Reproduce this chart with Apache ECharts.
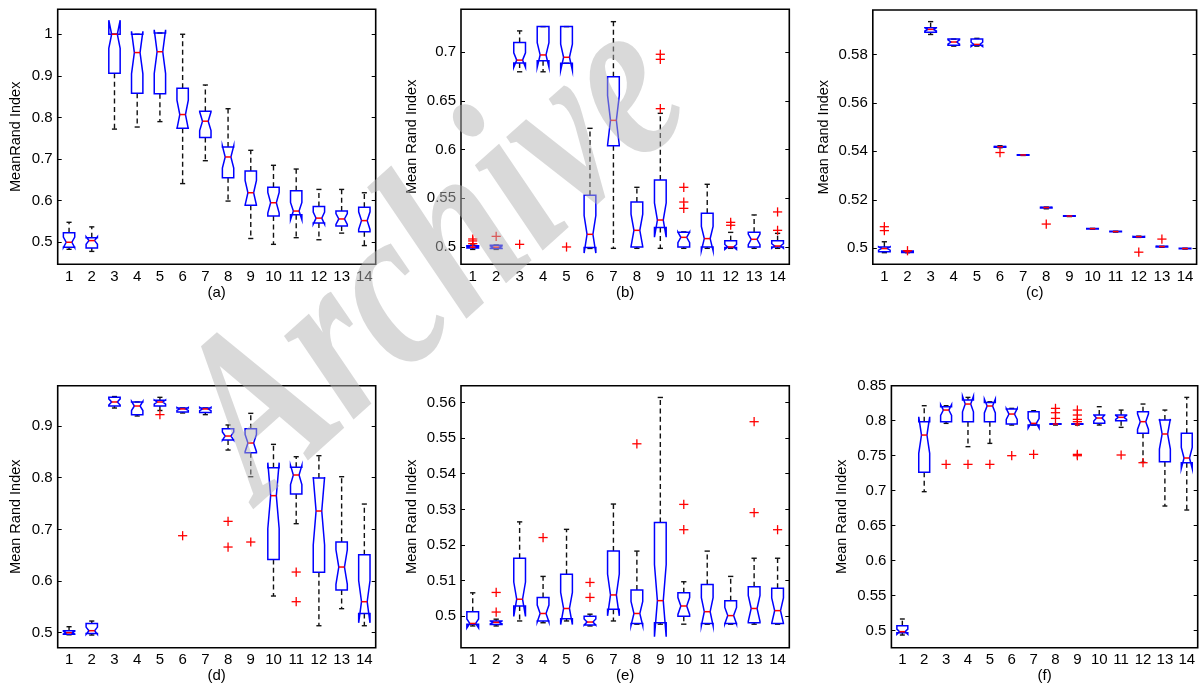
<!DOCTYPE html>
<html>
<head>
<meta charset="utf-8">
<script src="https://cdn.jsdelivr.net/npm/echarts@6/dist/echarts.min.js"></script>
<style>
html, body { margin: 0; background: #fff; }
#main { width: 1201px; height: 683px; }
</style>
</head>
<body>
<div id="main"></div>
<script>
var categories = ['1', '2', '3', '4', '5', '6', '7', '8', '9', '10', '11', '12', '13', '14'];

// each box: [lower whisker, q1, median, q3, upper whisker]
var boxesA = [
	[0.483, 0.488, 0.500, 0.523, 0.548], [0.478, 0.486, 0.504, 0.511, 0.537],
	[0.772, 0.906, 1.000, 1.000, 1.000], [0.777, 0.858, 0.956, 1.000, 1.000],
	[0.790, 0.857, 0.958, 1.003, 1.003], [0.641, 0.774, 0.807, 0.870, 1.000],
	[0.696, 0.752, 0.791, 0.815, 0.878], [0.599, 0.655, 0.705, 0.729, 0.821],
	[0.509, 0.589, 0.619, 0.671, 0.721], [0.495, 0.563, 0.595, 0.632, 0.685],
	[0.511, 0.566, 0.575, 0.624, 0.676], [0.506, 0.546, 0.558, 0.586, 0.627],
	[0.522, 0.539, 0.556, 0.575, 0.627], [0.492, 0.525, 0.552, 0.584, 0.619]
];
var outliersA = [];

var boxesB = [
	[0.4975, 0.4990, 0.4998, 0.5012, 0.5020], [0.4975, 0.4985, 0.4998, 0.5017, 0.5020],
	[0.6800, 0.6890, 0.6920, 0.7100, 0.7220], [0.6800, 0.6914, 0.6973, 0.7264, 0.7264],
	[0.6887, 0.6887, 0.6949, 0.7264, 0.7264], [0.4985, 0.4995, 0.5130, 0.5531, 0.6219],
	[0.4986, 0.6041, 0.6301, 0.6750, 0.7315], [0.4986, 0.5000, 0.5171, 0.5462, 0.5613],
	[0.4986, 0.5199, 0.5277, 0.5688, 0.6373], [0.4986, 0.5000, 0.5099, 0.5151, 0.5155],
	[0.4986, 0.5000, 0.5086, 0.5346, 0.5644], [0.4986, 0.4995, 0.5000, 0.5065, 0.5150],
	[0.4986, 0.5000, 0.5079, 0.5151, 0.5329], [0.4986, 0.5000, 0.5010, 0.5065, 0.5140]
];
var outliersB = [
	[0, 0.5034], [0, 0.5062], [0, 0.5082], [1, 0.5109], [2, 0.5027], [4, 0.5000],
	[8, 0.6980], [8, 0.6928], [8, 0.6421], [9, 0.5613], [9, 0.5462], [9, 0.5397],
	[11, 0.5253], [11, 0.5223], [13, 0.5360], [13, 0.5171]
];

var boxesC = [
	[0.4982, 0.4986, 0.4999, 0.5005, 0.5027], [0.4982, 0.4983, 0.4986, 0.4989, 0.4990],
	[0.5882, 0.5891, 0.5903, 0.5910, 0.5935], [0.5834, 0.5838, 0.5851, 0.5863, 0.5863],
	[0.5834, 0.5838, 0.5841, 0.5863, 0.5866], [0.5415, 0.5417, 0.5419, 0.5420, 0.5423],
	[0.5383, 0.5384, 0.5385, 0.5386, 0.5386], [0.5163, 0.5166, 0.5168, 0.5169, 0.5170],
	[0.5131, 0.5132, 0.5133, 0.5134, 0.5134], [0.5079, 0.5080, 0.5081, 0.5082, 0.5082],
	[0.5067, 0.5068, 0.5069, 0.5070, 0.5070], [0.5045, 0.5046, 0.5048, 0.5049, 0.5050],
	[0.5004, 0.5005, 0.5007, 0.5008, 0.5008], [0.4997, 0.4998, 0.4999, 0.5000, 0.5000]
];
var outliersC = [
	[0, 0.5089], [0, 0.5073], [1, 0.4990], [5, 0.5395], [7, 0.5100], [11, 0.4984], [12, 0.5038]
];

var boxesD = [
	[0.4960, 0.4968, 0.5000, 0.5039, 0.5116], [0.4955, 0.4987, 0.5039, 0.5180, 0.5226],
	[0.9348, 0.9387, 0.9465, 0.9555, 0.9570], [0.9194, 0.9220, 0.9387, 0.9465, 0.9465],
	[0.9300, 0.9387, 0.9465, 0.9500, 0.9555], [0.9252, 0.9270, 0.9330, 0.9348, 0.9348],
	[0.9220, 0.9260, 0.9330, 0.9348, 0.9348], [0.8535, 0.8730, 0.8806, 0.8948, 0.9020],
	[0.8019, 0.8484, 0.8671, 0.8948, 0.9245], [0.5710, 0.6419, 0.7652, 0.8194, 0.8645],
	[0.7110, 0.7684, 0.8052, 0.8200, 0.8406], [0.5135, 0.6168, 0.7355, 0.7994, 0.8426],
	[0.5465, 0.5826, 0.6271, 0.6755, 0.8019], [0.5135, 0.5374, 0.5600, 0.6510, 0.7490]
];
var outliersD = [
	[4, 0.9220], [5, 0.6877], [7, 0.7155], [7, 0.6658], [8, 0.6755], [10, 0.6174], [10, 0.5600]
];

var boxesE = [
	[0.4973, 0.4978, 0.4980, 0.5013, 0.5066], [0.4973, 0.4977, 0.4983, 0.4987, 0.4992],
	[0.4987, 0.5029, 0.5048, 0.5163, 0.5265], [0.4982, 0.4987, 0.5008, 0.5053, 0.5112],
	[0.4987, 0.4993, 0.5022, 0.5118, 0.5244], [0.4973, 0.4976, 0.4984, 0.5000, 0.5006],
	[0.4987, 0.5020, 0.5060, 0.5183, 0.5315], [0.4978, 0.4980, 0.5008, 0.5074, 0.5183],
	[0.4978, 0.4982, 0.5044, 0.5263, 0.5614], [0.4978, 0.5000, 0.5029, 0.5066, 0.5097],
	[0.4978, 0.4980, 0.5013, 0.5089, 0.5183], [0.4978, 0.4980, 0.5002, 0.5044, 0.5112],
	[0.4978, 0.4982, 0.5022, 0.5083, 0.5163], [0.4978, 0.4980, 0.5016, 0.5079, 0.5163]
];
var outliersE = [
	[1, 0.5067], [1, 0.5012], [3, 0.5221], [5, 0.5095], [5, 0.5053], [7, 0.5484],
	[9, 0.5314], [9, 0.5243], [12, 0.5546], [12, 0.5291], [13, 0.5243]
];

var boxesF = [
	[0.4938, 0.4971, 0.4986, 0.5071, 0.5167], [0.6986, 0.7262, 0.7795, 0.7986, 0.8214],
	[0.7962, 0.7986, 0.8152, 0.8200, 0.8214], [0.7629, 0.7986, 0.8238, 0.8295, 0.8333],
	[0.7676, 0.7986, 0.8210, 0.8260, 0.8270], [0.7938, 0.7952, 0.8095, 0.8167, 0.8176],
	[0.7938, 0.7938, 0.7962, 0.8129, 0.8143], [0.7938, 0.7948, 0.7952, 0.7955, 0.7955],
	[0.7938, 0.7948, 0.7952, 0.7955, 0.7955], [0.7938, 0.7962, 0.8038, 0.8081, 0.8200],
	[0.7905, 0.8000, 0.8048, 0.8081, 0.8152], [0.7405, 0.7819, 0.7986, 0.8129, 0.8238],
	[0.6781, 0.7414, 0.7810, 0.8010, 0.8152], [0.6724, 0.7400, 0.7467, 0.7819, 0.8333]
];
var outliersF = [
	[2, 0.7376], [3, 0.7376], [4, 0.7376], [5, 0.7500], [6, 0.7519],
	[7, 0.8176], [7, 0.8114], [7, 0.8033], [8, 0.8152], [8, 0.8081], [8, 0.8019],
	[8, 0.7986], [8, 0.7519], [8, 0.7500], [10, 0.7510], [11, 0.7400]
];

// tick labels of each y axis
var ticksA = [0.5, 0.6, 0.7, 0.8, 0.9, 1];
var ticksB = [0.5, 0.55, 0.6, 0.65, 0.7];
var ticksC = [0.5, 0.52, 0.54, 0.56, 0.58];
var ticksD = [0.5, 0.6, 0.7, 0.8, 0.9];
var ticksE = [0.5, 0.51, 0.52, 0.53, 0.54, 0.55, 0.56];
var ticksF = [0.5, 0.55, 0.6, 0.65, 0.7, 0.75, 0.8, 0.85];

// 面板布局
var panels = [
	{ boxes: boxesA, out: outliersA, ticks: ticksA, min: 0.447, max: 1.06, tag: '(a)', yname: 'MeanRand Index',
		rect: [57.7, 9.3, 318, 255], gap: 34 },
	{ boxes: boxesB, out: outliersB, ticks: ticksB, min: 0.4822, max: 0.7442, tag: '(b)', yname: 'Mean Rand Index',
		rect: [461, 9.3, 328.3, 255], gap: 42 },
	{ boxes: boxesC, out: outliersC, ticks: ticksC, min: 0.4934, max: 0.5983, tag: '(c)', yname: 'Mean Rand Index',
		rect: [872.8, 10, 323.8, 254.3], gap: 41 },
	{ boxes: boxesD, out: outliersD, ticks: ticksD, min: 0.471, max: 0.978, tag: '(d)', yname: 'Mean Rand Index',
		rect: [57.7, 385.7, 318, 262], gap: 34 },
	{ boxes: boxesE, out: outliersE, ticks: ticksE, min: 0.4912, max: 0.5647, tag: '(e)', yname: 'Mean Rand Index',
		rect: [461, 385.7, 328.3, 262], gap: 42 },
	{ boxes: boxesF, out: outliersF, ticks: ticksF, min: 0.4757, max: 0.85, tag: '(f)', yname: 'Mean Rand Index',
		rect: [891.4, 385.7, 306.3, 262], gap: 42 }
];

var FONT = 'Liberation Sans';
var NOTCH = 0.36;

function renderBox(params, api) {
	var i = api.value(0);
	var lo = api.value(1), q1 = api.value(2), md = api.value(3), q3 = api.value(4), hi = api.value(5);
	var band = api.size([1, 0])[0];
	var cx = api.coord([i, md])[0];
	var y = function (v) { return api.coord([i, v])[1]; };
	var hw = band * 0.25, inner = hw * 0.5, cap = hw * 0.45;
	var nlo = md - NOTCH * (q3 - q1), nhi = md + NOTCH * (q3 - q1);
	var L = cx - hw, R = cx + hw;
	var dash = { stroke: '#111', lineWidth: 1.4, lineDash: [5, 3.4] };
	var solid = { stroke: '#111', lineWidth: 1.4 };
	var kids = [];
	if (hi > q3) kids.push({ type: 'line', shape: { x1: cx, y1: y(q3), x2: cx, y2: y(hi) }, style: dash });
	if (lo < q1) kids.push({ type: 'line', shape: { x1: cx, y1: y(q1), x2: cx, y2: y(lo) }, style: dash });
	kids.push({ type: 'line', shape: { x1: cx - cap, y1: y(hi), x2: cx + cap, y2: y(hi) }, style: solid });
	kids.push({ type: 'line', shape: { x1: cx - cap, y1: y(lo), x2: cx + cap, y2: y(lo) }, style: solid });
	kids.push({
		type: 'polygon',
		shape: { points: [[L, y(q1)], [L, y(nlo)], [cx - inner, y(md)], [L, y(nhi)], [L, y(q3)],
			[R, y(q3)], [R, y(nhi)], [cx + inner, y(md)], [R, y(nlo)], [R, y(q1)]] },
		style: { fill: 'none', stroke: '#0000ff', lineWidth: 1.5 }
	});
	kids.push({ type: 'line', shape: { x1: cx - inner, y1: y(md), x2: cx + inner, y2: y(md) },
		style: { stroke: '#ff0000', lineWidth: 1.5 } });
	return { type: 'group', children: kids };
}

function renderPlus(params, api) {
	var p = api.coord([api.value(0), api.value(1)]);
	var s = 4.6;
	var st = { stroke: '#ff0000', lineWidth: 1.3 };
	return { type: 'group', children: [
		{ type: 'line', shape: { x1: p[0] - s, y1: p[1], x2: p[0] + s, y2: p[1] }, style: st },
		{ type: 'line', shape: { x1: p[0], y1: p[1] - s, x2: p[0], y2: p[1] + s }, style: st }
	] };
}

var grids = [], xAxes = [], yAxes = [], series = [];

panels.forEach(function (p, k) {
	grids.push({ left: p.rect[0], top: p.rect[1], width: p.rect[2], height: p.rect[3],
		show: true, borderColor: '#000', borderWidth: 1.6, backgroundColor: '#fff',
		containLabel: false, outerBoundsMode: 'none' });
	xAxes.push({ type: 'category', gridIndex: k, data: categories, boundaryGap: true,
		axisLine: { show: false }, axisTick: { show: false }, splitLine: { show: false },
		axisLabel: { color: '#000', fontSize: 15, fontFamily: FONT, margin: 5, interval: 0 },
		name: p.tag, nameLocation: 'middle', nameGap: 20,
		nameTextStyle: { color: '#000', fontSize: 15, fontFamily: FONT } });
	yAxes.push({ type: 'value', gridIndex: k, position: 'left', min: p.min, max: p.max,
		axisLine: { show: false }, splitLine: { show: false },
		axisTick: { show: true, inside: true, length: 4, customValues: p.ticks, lineStyle: { color: '#000', width: 1 } },
		axisLabel: { customValues: p.ticks, color: '#000', fontSize: 15, fontFamily: FONT, margin: 5 },
		name: p.yname, nameLocation: 'middle', nameGap: p.gap, nameRotate: 90,
		nameTextStyle: { color: '#000', fontSize: 14.5, fontFamily: FONT } });
	yAxes.push({ type: 'value', gridIndex: k, position: 'right', min: p.min, max: p.max,
		axisLine: { show: false }, splitLine: { show: false }, axisLabel: { show: false },
		axisTick: { show: true, inside: true, length: 4, customValues: p.ticks, lineStyle: { color: '#000', width: 1 } } });

	var boxData = p.boxes.map(function (b, i) { return [i, b[0], b[1], b[2], b[3], b[4]]; });
	series.push({ type: 'custom', xAxisIndex: k, yAxisIndex: 2 * k, renderItem: renderBox,
		encode: { x: 0, y: [1, 2, 3, 4, 5] }, data: boxData, silent: true, z: 3 });
	series.push({ type: 'custom', xAxisIndex: k, yAxisIndex: 2 * k, renderItem: renderPlus,
		encode: { x: 0, y: 1 }, data: p.out, silent: true, z: 4 });
});

var chart = echarts.init(document.getElementById('main'), null, { renderer: 'canvas' });
chart.setOption({
	animation: false,
	backgroundColor: '#fff',
	grid: grids,
	xAxis: xAxes,
	yAxis: yAxes,
	series: series,
	// 水印
	graphic: [{
		type: 'text', x: 438, y: 262, rotation: 0.73, scaleY: 1.3, z: 100, silent: true,
		style: { text: 'Archive', font: 'italic bold 182px "Liberation Serif"',
			fill: 'rgba(180,180,180,0.5)', align: 'center', verticalAlign: 'middle' }
	}]
});
</script>
</body>
</html>
